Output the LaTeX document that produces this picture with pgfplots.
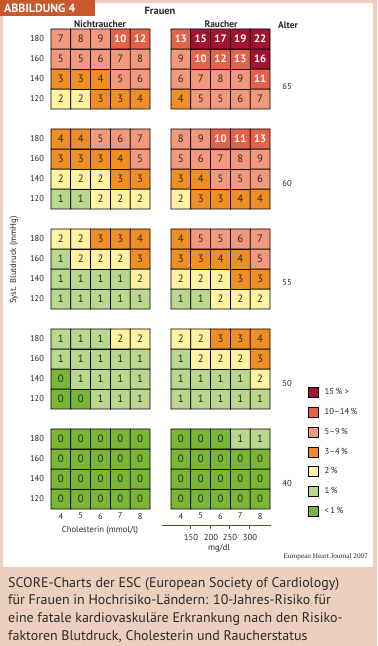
\documentclass[border=0pt]{standalone}
\usepackage{pgfplots}
\pgfplotsset{compat=1.18}
\usepackage{pgfplotstable}
\usepackage{fontspec}
\setmainfont{PT Sans}
\newfontfamily\jfont{Liberation Serif}

\definecolor{cA}{RGB}{122,182,52}
\definecolor{cB}{RGB}{186,215,142}
\definecolor{cC}{RGB}{255,242,160}
\definecolor{cD}{RGB}{238,142,36}
\definecolor{cE}{RGB}{242,152,124}
\definecolor{cF}{RGB}{229,98,74}
\definecolor{cG}{RGB}{163,20,50}
\definecolor{frame}{RGB}{237,207,192}
\definecolor{tag}{RGB}{200,88,45}
\definecolor{txt}{RGB}{45,40,38}
\definecolor{mgred}{RGB}{200,30,40}

% ---- Nichtraucher (x = Cholesterin mmol/l, y = row position, v = risk %)
\pgfplotstableread[row sep=\\]{
x y v\\
4 20 2\\ 5 20 2\\ 6 20 3\\ 7 20 3\\ 8 20 4\\
4 21 3\\ 5 21 3\\ 6 21 4\\ 7 21 5\\ 8 21 6\\
4 22 5\\ 5 22 5\\ 6 22 6\\ 7 22 7\\ 8 22 8\\
4 23 7\\ 5 23 8\\ 6 23 9\\ 7 23 10\\ 8 23 12\\
}\nsA
\pgfplotstableread[row sep=\\]{
x y v\\
4 15 1\\ 5 15 1\\ 6 15 2\\ 7 15 2\\ 8 15 2\\
4 16 2\\ 5 16 2\\ 6 16 2\\ 7 16 3\\ 8 16 3\\
4 17 3\\ 5 17 3\\ 6 17 3\\ 7 17 4\\ 8 17 5\\
4 18 4\\ 5 18 4\\ 6 18 5\\ 7 18 6\\ 8 18 7\\
}\nsB
\pgfplotstableread[row sep=\\]{
x y v\\
4 10 1\\ 5 10 1\\ 6 10 1\\ 7 10 1\\ 8 10 1\\
4 11 1\\ 5 11 1\\ 6 11 1\\ 7 11 1\\ 8 11 2\\
4 12 1\\ 5 12 2\\ 6 12 2\\ 7 12 2\\ 8 12 3\\
4 13 2\\ 5 13 2\\ 6 13 3\\ 7 13 3\\ 8 13 4\\
}\nsC
\pgfplotstableread[row sep=\\]{
x y v\\
4 5 0\\ 5 5 0\\ 6 5 1\\ 7 5 1\\ 8 5 1\\
4 6 0\\ 5 6 1\\ 6 6 1\\ 7 6 1\\ 8 6 1\\
4 7 1\\ 5 7 1\\ 6 7 1\\ 7 7 1\\ 8 7 1\\
4 8 1\\ 5 8 1\\ 6 8 1\\ 7 8 2\\ 8 8 2\\
}\nsD
\pgfplotstableread[row sep=\\]{
x y v\\
4 0 0\\ 5 0 0\\ 6 0 0\\ 7 0 0\\ 8 0 0\\
4 1 0\\ 5 1 0\\ 6 1 0\\ 7 1 0\\ 8 1 0\\
4 2 0\\ 5 2 0\\ 6 2 0\\ 7 2 0\\ 8 2 0\\
4 3 0\\ 5 3 0\\ 6 3 0\\ 7 3 0\\ 8 3 0\\
}\nsE
% ---- Raucher
\pgfplotstableread[row sep=\\]{
x y v\\
4 20 4\\ 5 20 5\\ 6 20 5\\ 7 20 6\\ 8 20 7\\
4 21 6\\ 5 21 7\\ 6 21 8\\ 7 21 9\\ 8 21 11\\
4 22 9\\ 5 22 10\\ 6 22 12\\ 7 22 13\\ 8 22 16\\
4 23 13\\ 5 23 15\\ 6 23 17\\ 7 23 19\\ 8 23 22\\
}\rA
\pgfplotstableread[row sep=\\]{
x y v\\
4 15 2\\ 5 15 3\\ 6 15 3\\ 7 15 4\\ 8 15 4\\
4 16 3\\ 5 16 4\\ 6 16 5\\ 7 16 5\\ 8 16 6\\
4 17 5\\ 5 17 6\\ 6 17 7\\ 7 17 8\\ 8 17 9\\
4 18 8\\ 5 18 9\\ 6 18 10\\ 7 18 11\\ 8 18 13\\
}\rB
\pgfplotstableread[row sep=\\]{
x y v\\
4 10 1\\ 5 10 1\\ 6 10 2\\ 7 10 2\\ 8 10 2\\
4 11 2\\ 5 11 2\\ 6 11 2\\ 7 11 3\\ 8 11 3\\
4 12 3\\ 5 12 3\\ 6 12 4\\ 7 12 4\\ 8 12 5\\
4 13 4\\ 5 13 5\\ 6 13 5\\ 7 13 6\\ 8 13 7\\
}\rC
\pgfplotstableread[row sep=\\]{
x y v\\
4 5 1\\ 5 5 1\\ 6 5 1\\ 7 5 1\\ 8 5 1\\
4 6 1\\ 5 6 1\\ 6 6 1\\ 7 6 1\\ 8 6 2\\
4 7 1\\ 5 7 2\\ 6 7 2\\ 7 7 2\\ 8 7 3\\
4 8 2\\ 5 8 2\\ 6 8 3\\ 7 8 3\\ 8 8 4\\
}\rD
\pgfplotstableread[row sep=\\]{
x y v\\
4 0 0\\ 5 0 0\\ 6 0 0\\ 7 0 0\\ 8 0 0\\
4 1 0\\ 5 1 0\\ 6 1 0\\ 7 1 0\\ 8 1 0\\
4 2 0\\ 5 2 0\\ 6 2 0\\ 7 2 0\\ 8 2 0\\
4 3 0\\ 5 3 0\\ 6 3 0\\ 7 3 1\\ 8 3 1\\
}\rE

\pgfplotsset{
  scoreaxis/.style={
    anchor=south west, scale only axis, width=99bp, height=480bp,
    xmin=3.5, xmax=8.5, ymin=-0.5, ymax=23.5, clip=false,
    axis line style={draw=none}, major tick length=0pt,
    xtick={4,5,6,7,8},
    /pgf/number format/assume math mode=true,
    tick label style={font=\fontsize{8.5}{9}\selectfont, text=txt},
    xticklabel style={yshift=-0.5bp},
    % one colour per risk value 0..22 (classes <1, 1, 2, 3-4, 5-9, 10-14, >=15)
    colormap={score}{color=(cA) color=(cB) color=(cC) color=(cD) color=(cD)
      color=(cE) color=(cE) color=(cE) color=(cE) color=(cE)
      color=(cF) color=(cF) color=(cF) color=(cF) color=(cF)
      color=(cG) color=(cG) color=(cG) color=(cG) color=(cG) color=(cG) color=(cG) color=(cG)},
    point meta min=0, point meta max=22,
  },
  scorecells/.style={matrix plot*, mesh/cols=5, forget plot, point meta=explicit,
    draw=black, line width=0.7bp},
  darklabels/.style={only marks, mark=none, forget plot, point meta=explicit,
    nodes near coords,
    every node near coord/.append style={anchor=center, inner sep=0pt, text=txt,
      font=\fontsize{10.8}{12}\selectfont},
    restrict expr to domain={\thisrow{v}}{-1:9.5}},
  whitelabels/.style={only marks, mark=none, forget plot, point meta=explicit,
    nodes near coords,
    every node near coord/.append style={anchor=center, inner sep=0pt, text=white,
      font=\bfseries\fontsize{10.8}{12}\selectfont},
    restrict expr to domain={\thisrow{v}}{9.5:100}},
}

\begin{document}
\begin{tikzpicture}[x=1bp,y=1bp]
% frame and panels
\fill[frame] (0,0) rectangle (377,646);
\fill[white] (3,79) rectangle (373,643);
\fill[tag] (0,630) rectangle (95,646);
\node[anchor=west, text=white, font=\bfseries\fontsize{12}{14}\selectfont, inner sep=0pt] at (4,638) {ABBILDUNG 4};

% Nichtraucher
\begin{axis}[scoreaxis, at={(51bp,137bp)},
  ytick={0,1,2,3,5,6,7,8,10,11,12,13,15,16,17,18,20,21,22,23},
  yticklabels={120,140,160,180,120,140,160,180,120,140,160,180,120,140,160,180,120,140,160,180},
  yticklabel style={xshift=-3.5bp}]
\addplot[scorecells] table[meta=v] {\nsA};
\addplot[scorecells] table[meta=v] {\nsB};
\addplot[scorecells] table[meta=v] {\nsC};
\addplot[scorecells] table[meta=v] {\nsD};
\addplot[scorecells] table[meta=v] {\nsE};
\addplot[darklabels] table[meta=v] {\nsA};
\addplot[darklabels] table[meta=v] {\nsB};
\addplot[darklabels] table[meta=v] {\nsC};
\addplot[darklabels] table[meta=v] {\nsD};
\addplot[darklabels] table[meta=v] {\nsE};
\addplot[whitelabels] table[meta=v] {\nsA};
\end{axis}

% Raucher
\begin{axis}[scoreaxis, at={(171bp,137bp)}, ytick=\empty,
  legend style={at={(axis description cs:1.384,0.256)}, anchor=north west,
    draw=none, fill=none, inner sep=0pt, row sep=8.2bp,
    font=\fontsize{8.7}{10}\selectfont, text=txt,
    cells={anchor=west},
    /tikz/every odd column/.append style={column sep=4bp}},
  legend image code/.code={\fill[#1] (0bp,-5bp) rectangle (10bp,5bp);}]
\addplot[scorecells] table[meta=v] {\rA};
\addplot[scorecells] table[meta=v] {\rB};
\addplot[scorecells] table[meta=v] {\rC};
\addplot[scorecells] table[meta=v] {\rD};
\addplot[scorecells] table[meta=v] {\rE};
\addplot[darklabels] table[meta=v] {\rA};
\addplot[darklabels] table[meta=v] {\rB};
\addplot[darklabels] table[meta=v] {\rC};
\addplot[darklabels] table[meta=v] {\rD};
\addplot[darklabels] table[meta=v] {\rE};
\addplot[whitelabels] table[meta=v] {\rA};
\addplot[whitelabels] table[meta=v] {\rB};
\addlegendimage{fill=cG}\addlegendentry{15\,\% >}
\addlegendimage{fill=cF}\addlegendentry{10--14\,\%}
\addlegendimage{fill=cE}\addlegendentry{5--9\,\%}
\addlegendimage{fill=cD}\addlegendentry{3--4\,\%}
\addlegendimage{fill=cC}\addlegendentry{2\,\%}
\addlegendimage{fill=cB}\addlegendentry{1\,\%}
\addlegendimage{fill=cA}\addlegendentry{<\,1\,\%}
\end{axis}

% titles
\node[font=\bfseries\fontsize{10.5}{12}\selectfont, text=txt] at (160,635) {Frauen};
\node[font=\bfseries\fontsize{9.5}{11}\selectfont, text=txt] at (100,622) {Nichtraucher};
\node[font=\bfseries\fontsize{9.5}{11}\selectfont, text=txt] at (221,622) {Raucher};
\node[font=\bfseries\fontsize{9.5}{11}\selectfont, text=txt] at (288,621) {Alter};
% age labels
\foreach \a/\py in {65/86,60/183,55/283,50/383,40/483}{
  \node[font=\fontsize{8.7}{10}\selectfont, text=txt] at (287,646-\py) {\a};
}
% axis titles
\node[rotate=90, font=\fontsize{8.7}{10}\selectfont, text=txt] at (14,386) {Syst. Blutdruck (mmHg)};
\node[font=\fontsize{8.7}{10}\selectfont, text=txt] at (100,116) {Cholesterin (mmol/l)};
% mg/dl scale
\draw[mgred, line width=0.6bp] (162,121) -- (271,121);
\foreach \xx/\lab in {190/150,210/200,229/250,249/300}{
  \draw[mgred, line width=0.6bp] (\xx,121) -- (\xx,116.5);
  \node[font=\fontsize{8.7}{10}\selectfont, text=txt] at (\xx+1,109) {\lab};
}
\node[font=\fontsize{8.7}{10}\selectfont, text=txt] at (219,98) {mg/dl};
% source
\node[anchor=east, font=\jfont\fontsize{7.2}{8}\selectfont, text=txt, inner sep=0pt] at (368,89) {European Heart Journal 2007};
% caption
\node[anchor=north west, inner sep=0pt, align=left, text=txt,
  font=\fontsize{14}{17.8}\selectfont] at (8,69)
  {SCORE-Charts der ESC (European Society of Cardiology)\\
   für Frauen in Hochrisiko-Ländern: 10-Jahres-Risiko für\\
   eine fatale kardiovaskuläre Erkrankung nach den Risiko-\\
   faktoren Blutdruck, Cholesterin und Raucherstatus};
\pgfresetboundingbox
\useasboundingbox (0,0) rectangle (377,646);
\end{tikzpicture}
\end{document}
